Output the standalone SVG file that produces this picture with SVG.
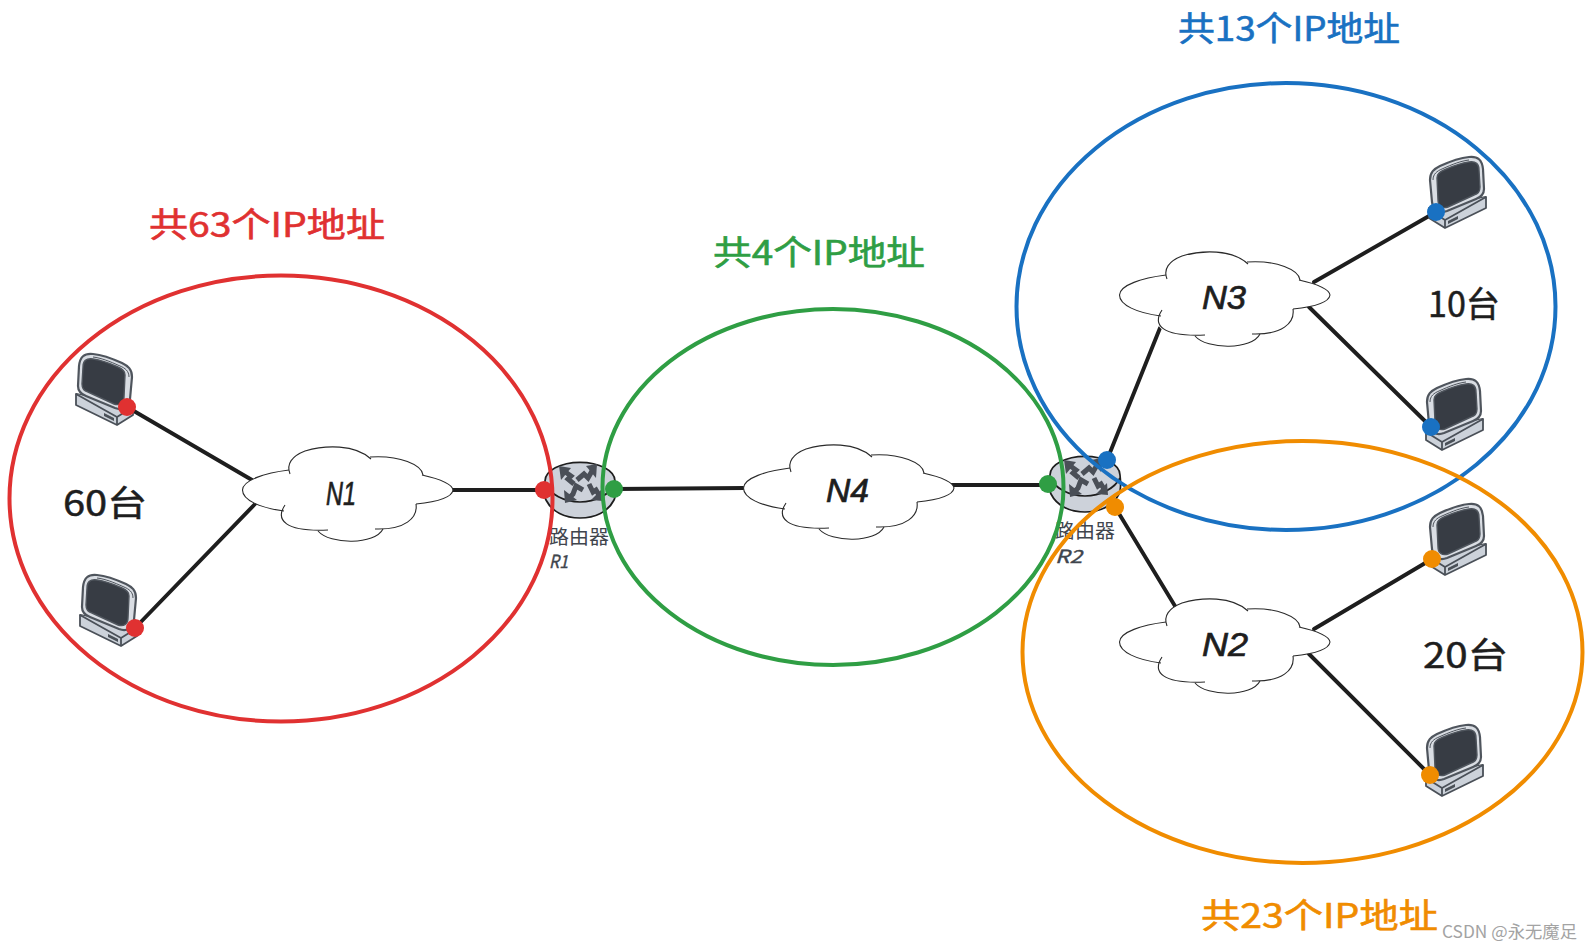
<svg xmlns="http://www.w3.org/2000/svg" xmlns:xlink="http://www.w3.org/1999/xlink" width="1592" height="950" viewBox="0 0 1592 950">
<style>
.bg{fill:#fff}
.link{stroke:#1e1e1e;stroke-width:3.9;fill:none;stroke-linecap:round}
.zone{fill:none;stroke-width:4}
.cloud{fill:none;stroke:#2a2a2a;stroke-width:1.1;stroke-linejoin:round}
.cmask{fill:#fff;stroke:none}
.pc-base{fill:#ccd2da;stroke:#4a5058;stroke-width:1.8;stroke-linejoin:round}
.pc-shell{fill:#d9dde3;stroke:#4f555d;stroke-width:2.2}
.pc-screen{fill:#373c44;stroke:#4f555d;stroke-width:1.4}
.rt-body{fill:#cdd2da;stroke:#1e1e1e;stroke-width:1.7}
.rt-arrow{fill:none;stroke:#4a4f57;stroke-width:5;stroke-linejoin:miter}
.rt-tip{fill:#4a4f57}
.t{font-family:"Noto Sans CJK SC","Liberation Sans",sans-serif}
.hand{font-family:"Liberation Sans","Noto Sans CJK SC",sans-serif;fill:#1e1e1e;stroke:#1e1e1e;stroke-width:.7}
.n{font-style:italic;font-size:33px}
.big{font-size:35px;stroke:#1e1e1e;stroke-width:.5}
.lbl{font-size:34px;stroke-width:.6}
.rt-t{font-size:19.5px;fill:#40454d}
.rt-id{font-size:18px;font-style:italic;fill:#40454d;stroke:#40454d;stroke-width:.4}
.red{fill:#e03131;stroke:#e03131}.green{fill:#2f9e44;stroke:#2f9e44}.blue{fill:#1971c2;stroke:#1971c2}.orange{fill:#f08c00;stroke:#f08c00}
.dot{stroke:none;stroke-width:0}
</style>
<defs>
<g id="cloud">
<path class="cmask" d="M59,40C35,43 13,50 12.5,60C12.5,70 30,78 54,81C45,90 55,102 90,101C100,115 145,115 153,99C175,100 188,88 186,74C205,72 222,68 223,60C222,54 210,49 193,45C192,35 170,25 140,28C125,14 95,15 75,21C62,26 56,34 59,40Z"/>
<path class="cloud" d="M59,40C35,43 13,50 12.5,60C12.5,70 30,78 54,81"/>
<path class="cloud" d="M55,75C45,90 55,102 98,100"/>
<path class="cloud" d="M88,101C100,115 145,115 153,99"/>
<path class="cloud" d="M145,99C175,100 188,88 186,74"/>
<path class="cloud" d="M186,74C205,72 222,68 223,60C222,54 210,49 192,45"/>
<path class="cloud" d="M193,45C192,35 170,25 140,27"/>
<path class="cloud" d="M141,29C125,14 95,15 75,21C62,26 56,34 60,44"/>
</g>
<g id="pc">
<path class="pc-base" d="M20,68L77,57L77,68L36,88L20,78Z"/>
<path class="pc-base" d="M20,70L36,80L77,57M36,80L36,88"/>
<path style="fill:#4a5058" d="M39,81L49,76L49,79L39,84Z"/>
<path class="pc-shell" d="M21,40C21,32 25,29 31,26C42,21 50,18 60,17C69,16 73,20 74,29L75,49C75,54 72,57 67,59L38,71C30,74 24,70 23,62Z"/>
<path class="pc-shell" style="fill:none;stroke-width:1" d="M24,40C24,34 28,31 33,29C44,24 52,21 60,20"/>
<path class="pc-screen" d="M28,38C28,34 30,32 35,30C44,26 52,23 60,22C67,21 70,24 70,30L71,47C71,52 69,54 65,55L39,67C33,69 29,66 29,60Z"/>
</g>
<g id="router">
<path class="rt-body" d="M25,41A35,18.7 0 0 1 95,41C96,50 96,56 94,60C88,72 75,78 60,78C45,78 32,72 26,60C24,56 24,50 25,41Z"/>
<path class="rt-body" style="fill:none" d="M25,44C30,54 44,62 60,62C76,62 90,54 95,44"/>
<path class="rt-arrow" d="M54,44L48,39L51,36L44,31"/>
<path class="rt-tip" d="M39,26L51,28L41,40Z"/>
<path class="rt-arrow" d="M57,40L64,34L68,38L72,31"/>
<path class="rt-tip" d="M77,24L66,26L76,38Z"/>
<path class="rt-arrow" d="M63,50L56,46L53,54L50,57"/>
<path class="rt-tip" d="M45,63L44,50L57,60Z"/>
<path class="rt-arrow" d="M69,44L73,52L76,50L79,55"/>
<path class="rt-tip" d="M83,61L71,60L82,49Z"/>
</g>
</defs>
<rect class="bg" width="1592" height="950"/>

<g id="connectors">
<path class="link" d="M127,407L252,480"/>
<path class="link" d="M135,628L256,503"/>
<path class="link" d="M450,490L544,490"/>
<path class="link" d="M614,489L745,488"/>
<path class="link" d="M950,485L1048,485"/>
<path class="link" d="M1107,460L1160,328"/>
<path class="link" d="M1115,507L1178,611"/>
<path class="link" d="M1314,282L1436,212"/>
<path class="link" d="M1309,307L1431,427"/>
<path class="link" d="M1314,629L1432,559"/>
<path class="link" d="M1309,654L1430,775"/>
</g>

<g id="pc1"><use xlink:href="#pc" href="#pc" transform="translate(153,337) scale(-1,1)"/></g>
<g id="pc2"><use xlink:href="#pc" href="#pc" transform="translate(157,558) scale(-1,1)"/></g>
<g id="pc3"><use xlink:href="#pc" href="#pc" transform="translate(1409,140)"/></g>
<g id="pc4"><use xlink:href="#pc" href="#pc" transform="translate(1406,362)"/></g>
<g id="pc5"><use xlink:href="#pc" href="#pc" transform="translate(1409,487)"/></g>
<g id="pc6"><use xlink:href="#pc" href="#pc" transform="translate(1406,708)"/></g>

<g id="n1"><use xlink:href="#cloud" href="#cloud" transform="translate(230,430)"/><text class="hand n" x="326" y="505" textLength="30" lengthAdjust="spacingAndGlyphs">N1</text></g>
<g id="n4"><use xlink:href="#cloud" href="#cloud" transform="translate(731,428)"/><text class="hand n" x="826" y="502" textLength="43" lengthAdjust="spacingAndGlyphs">N4</text></g>
<g id="n3"><use xlink:href="#cloud" href="#cloud" transform="translate(1107,235)"/><text class="hand n" x="1202" y="309" textLength="44" lengthAdjust="spacingAndGlyphs">N3</text></g>
<g id="n2"><use xlink:href="#cloud" href="#cloud" transform="translate(1107,582)"/><text class="hand n" x="1202" y="656" textLength="46" lengthAdjust="spacingAndGlyphs">N2</text></g>

<g id="r1"><use xlink:href="#router" href="#router" transform="translate(520,440)"/>
<text class="t rt-t" x="549" y="544" textLength="60" lengthAdjust="spacingAndGlyphs">路由器</text>
<text class="t rt-id" x="549" y="568" textLength="19" lengthAdjust="spacingAndGlyphs">R1</text></g>
<g id="r2"><use xlink:href="#router" href="#router" transform="translate(1025,434)"/>
<text class="t rt-t" x="1055" y="538" textLength="60" lengthAdjust="spacingAndGlyphs">路由器</text>
<text class="t rt-id" x="1055" y="563" textLength="27" lengthAdjust="spacingAndGlyphs">R2</text></g>

<g id="zone-red"><ellipse class="zone" cx="281" cy="498.5" rx="271.5" ry="223" stroke="#e03131"/></g>
<g id="zone-green"><ellipse class="zone" cx="833" cy="487" rx="230.5" ry="178" stroke="#2f9e44"/></g>
<g id="zone-blue"><ellipse class="zone" cx="1286" cy="306.5" rx="269.5" ry="223.5" stroke="#1971c2"/></g>
<g id="zone-orange"><ellipse class="zone" cx="1302.5" cy="652" rx="280" ry="211" stroke="#f08c00"/></g>

<g id="ports">
<circle class="red dot" cx="127" cy="407" r="9"/><circle class="red dot" cx="135" cy="628" r="9"/><circle class="red dot" cx="544" cy="490" r="9"/>
<circle class="green dot" cx="614" cy="489" r="9"/><circle class="green dot" cx="1048" cy="484" r="9"/>
<circle class="blue dot" cx="1107" cy="460" r="9"/><circle class="blue dot" cx="1436" cy="212" r="9"/><circle class="blue dot" cx="1431" cy="427" r="9"/>
<circle class="orange dot" cx="1115" cy="507" r="9"/><circle class="orange dot" cx="1432" cy="559" r="9"/><circle class="orange dot" cx="1430" cy="775" r="9"/>
</g>

<g id="labels">
<text class="t lbl red" x="149" y="237" textLength="236" lengthAdjust="spacingAndGlyphs">共63个IP地址</text>
<text class="t lbl green" x="713" y="265" textLength="212" lengthAdjust="spacingAndGlyphs">共4个IP地址</text>
<text class="t lbl blue" x="1178" y="41" textLength="222" lengthAdjust="spacingAndGlyphs">共13个IP地址</text>
<text class="t lbl orange" x="1201" y="928" textLength="237" lengthAdjust="spacingAndGlyphs">共23个IP地址</text>
<text class="t big" fill="#1e1e1e" x="63" y="516" textLength="84" lengthAdjust="spacingAndGlyphs">60台</text>
<text class="t big" fill="#1e1e1e" x="1428" y="317" textLength="72" lengthAdjust="spacingAndGlyphs">10台</text>
<text class="t big" fill="#1e1e1e" x="1423" y="668" textLength="85" lengthAdjust="spacingAndGlyphs">20台</text>
<text class="t" font-size="17" fill="#a3a3a3" x="1442" y="938" textLength="135" lengthAdjust="spacingAndGlyphs">CSDN @永无魔足</text>
</g>
</svg>
